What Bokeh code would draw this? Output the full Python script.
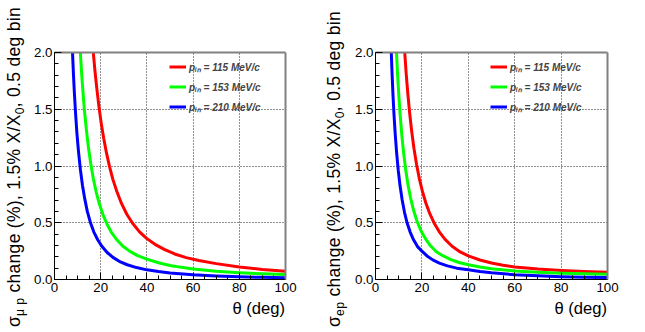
import numpy as np
from bokeh.plotting import figure
from bokeh.layouts import row, column
from bokeh.models import Range1d, FixedTicker, LinearAxis, NumeralTickFormatter, Div
from bokeh.embed import file_html
from bokeh.resources import INLINE

# ---------------- data ----------------
legend_labels = ["p\u1d62\u2099 = 115 MeV/c", "p\u1d62\u2099 = 153 MeV/c", "p\u1d62\u2099 = 210 MeV/c"]

# left panel: sigma_mu p change (%) vs theta (deg)
th_mup_115 = [16.8, 17.5, 18.3, 19.2, 20.2, 21.3, 22.5, 23.8, 25.3, 27.0, 29.0, 31.3, 33.8, 36.8, 40.0,
              43.5, 47.5, 52.0, 57.0, 62.5, 70.0, 80.0, 90.0, 100.0]
v_mup_115 = [2.0, 1.84, 1.686, 1.53, 1.38, 1.244, 1.115, 0.997, 0.88, 0.775, 0.67, 0.575, 0.495, 0.42, 0.36,
             0.31, 0.265, 0.225, 0.193, 0.167, 0.14, 0.11, 0.088, 0.073]
th_mup_153 = [11.2, 11.7, 12.3, 13.0, 13.8, 14.7, 15.7, 16.8, 18.0, 19.4, 21.0, 22.8, 24.8, 27.0, 29.5,
              32.5, 36.0, 40.0, 45.0, 50.0, 55.0, 60.0, 70.0, 80.0, 90.0, 100.0]
v_mup_153 = [2.0, 1.83, 1.66, 1.48, 1.32, 1.16, 1.02, 0.89, 0.775, 0.667, 0.57, 0.485, 0.41, 0.35, 0.295,
             0.25, 0.21, 0.18, 0.148, 0.124, 0.107, 0.093, 0.072, 0.059, 0.05, 0.043]
th_mup_210 = [7.8, 8.2, 8.6, 9.1, 9.7, 10.4, 11.2, 12.1, 13.1, 14.2, 15.5, 17.0, 18.7, 20.6, 22.8, 25.3,
              28.0, 31.5, 35.5, 40.0, 45.0, 50.0, 60.0, 70.0, 80.0, 90.0, 100.0]
v_mup_210 = [2.0, 1.81, 1.645, 1.47, 1.29, 1.125, 0.97, 0.83, 0.71, 0.60, 0.505, 0.42, 0.35, 0.29, 0.238, 0.195,
             0.16, 0.13, 0.105, 0.085, 0.07, 0.058, 0.042, 0.031, 0.024, 0.019, 0.015]

# right panel: sigma_ep change (%) vs theta (deg)
th_ep_115 = [12.6, 13.2, 13.9, 14.7, 15.6, 16.6, 17.7, 18.9, 20.2, 21.7, 23.4, 25.3, 27.5, 30.0, 33.0, 36.5,
             40.0, 45.0, 50.0, 55.0, 60.0, 70.0, 80.0, 90.0, 100.0]
v_ep_115 = [2.0, 1.82, 1.645, 1.47, 1.305, 1.152, 1.013, 0.889, 0.778, 0.674, 0.58, 0.496, 0.42, 0.353, 0.293,
            0.243, 0.208, 0.172, 0.145, 0.126, 0.111, 0.092, 0.079, 0.07, 0.064]
th_ep_153 = [9.05, 9.5, 10.0, 10.6, 11.3, 12.1, 13.0, 14.0, 15.1, 16.4, 17.9, 19.6, 21.5, 23.7, 26.2, 29.0,
             32.5, 36.0, 40.0, 45.0, 50.0, 60.0, 70.0, 80.0, 90.0, 100.0]
v_ep_153 = [2.0, 1.815, 1.64, 1.46, 1.28, 1.12, 0.97, 0.836, 0.72, 0.61, 0.513, 0.43, 0.36, 0.297, 0.245, 0.21,
            0.175, 0.15, 0.13, 0.11, 0.095, 0.075, 0.063, 0.055, 0.05, 0.046]
th_ep_210 = [6.8, 7.15, 7.55, 8.0, 8.5, 9.1, 9.8, 10.6, 11.5, 12.5, 13.6, 14.9, 16.4, 18.1, 20.0, 22.2, 24.7,
             27.5, 31.0, 35.0, 40.0, 45.0, 50.0, 60.0, 70.0, 80.0, 90.0, 100.0]
v_ep_210 = [2.0, 1.81, 1.62, 1.445, 1.28, 1.117, 0.963, 0.823, 0.70, 0.592, 0.50, 0.42, 0.35, 0.29, 0.25, 0.208,
            0.173, 0.145, 0.12, 0.1, 0.085, 0.07, 0.059, 0.042, 0.032, 0.025, 0.02, 0.017]

x_ticks = [0, 20, 40, 60, 80, 100]
y_ticks = [0.0, 0.5, 1.0, 1.5, 2.0]
x_title = "\u03b8 (deg)"
# y titles: (main, subscript, main, subscript, main)
y_title_left = ["\u03c3", "\u03bc p", " change (%), 1.5% X/X", "0", ", 0.5 deg bin"]
y_title_right = ["\u03c3", "ep", " change (%), 1.5% X/X", "0", ", 0.5 deg bin"]

colors = ["#ff0000", "#00ff00", "#0000ff"]

FONT = "Liberation Sans"
H_ALL = 332
H_PLOT = 301
H_XT = H_ALL - H_PLOT


def ytitle_div(parts, w, left, bottom, size=17.5):
    sub = "font-size:0.7em;position:relative;top:4px;"
    html = (parts[0] + f'<span style="{sub}">' + parts[1] + "</span>" + parts[2]
            + f'<span style="{sub}">' + parts[3] + "</span>" + parts[4])
    inner = (f'<div style="position:relative;width:{w}px;height:{H_ALL}px;overflow:visible;">'
             f'<div style="position:absolute;left:{left}px;top:{bottom}px;transform-origin:0 0;'
             f'transform:rotate(-90deg);white-space:nowrap;font-family:\'{FONT}\';letter-spacing:0.3px;'
             f'font-size:{size}px;line-height:{size}px;color:#000;">{html}</div></div>')
    return Div(text=inner, width=w, height=H_ALL, margin=0)


def xtitle_div(w, right):
    inner = (f'<div style="position:relative;width:{w}px;height:{H_XT}px;overflow:visible;">'
             f'<div style="position:absolute;right:{right}px;top:-0.5px;white-space:nowrap;'
             f'font-family:\'{FONT}\';font-size:16.6px;line-height:16.6px;color:#000;">{x_title}</div></div>')
    return Div(text=inner, width=w, height=H_XT, margin=0)


def make_panel(curves, width, bl, br):
    p = figure(width=width, height=H_PLOT, x_range=Range1d(0, 100), y_range=Range1d(0, 2),
               output_backend="svg", toolbar_location=None,
               min_border_left=bl, min_border_right=br, min_border_top=52, min_border_bottom=22)
    p.background_fill_color = "white"
    p.border_fill_color = "white"
    p.outline_line_color = None

    for (th, v), c, lab in zip(curves, colors, legend_labels):
        p.line(th, v, line_color=c, line_width=3, line_join="round", legend_label=lab)

    xt = FixedTicker(ticks=x_ticks, minor_ticks=list(np.arange(0, 101, 5)))
    yt = FixedTicker(ticks=y_ticks, minor_ticks=list(np.round(np.arange(0, 2.01, 0.1), 2)))
    p.xaxis.ticker = xt
    p.yaxis.ticker = yt
    p.yaxis.formatter = NumeralTickFormatter(format="0.0")
    for ax in (p.xaxis[0], p.yaxis[0]):
        ax.axis_line_color = "black"
        ax.axis_line_width = 1
        ax.major_tick_in = 7
        ax.major_tick_out = 0
        ax.minor_tick_in = 4
        ax.minor_tick_out = 0
        ax.major_tick_line_color = "black"
        ax.minor_tick_line_color = "black"
        ax.major_label_text_font = FONT
        ax.major_label_text_font_size = "13.3px"
        ax.major_label_text_color = "black"
    p.xaxis.major_label_standoff = 3
    p.yaxis.major_label_standoff = 2

    p.xgrid.ticker = xt
    p.ygrid.ticker = yt
    for g in (p.xgrid[0], p.ygrid[0]):
        g.grid_line_color = "#222222"
        g.grid_line_dash = "1 2"
        g.grid_line_width = 1

    for side in ("above", "right"):
        a = LinearAxis(ticker=FixedTicker(ticks=[]), axis_line_color="#808080", axis_line_width=2,
                       major_tick_line_color=None, minor_tick_line_color=None)
        p.add_layout(a, side)

    leg = p.legend[0]
    leg.location = (115, 164)
    leg.glyph_width = 17
    leg.glyph_height = 17
    leg.label_height = 17
    leg.spacing = 3
    leg.padding = 0
    leg.margin = 0
    leg.label_standoff = 3
    leg.label_text_font = FONT
    leg.label_text_font_style = "bold italic"
    leg.label_text_font_size = "10px"
    leg.border_line_alpha = 0
    leg.background_fill_alpha = 0
    return p


# page layout: [ytitle1 0..31][panel1 31..326][ytitle2 326..352][panel2 352..645]
yd1 = ytitle_div(y_title_left, 31, 5.7, 327)
p1 = make_panel([(th_mup_115, v_mup_115), (th_mup_153, v_mup_153), (th_mup_210, v_mup_210)], 295, 21, 41)
xd1 = xtitle_div(295, 41)
yd2 = ytitle_div(y_title_right, 26, 0, 327)
p2 = make_panel([(th_ep_115, v_ep_115), (th_ep_153, v_ep_153), (th_ep_210, v_ep_210)], 293, 23, 38)
xd2 = xtitle_div(293, 38)

layout = row(yd1, column(p1, xd1), yd2, column(p2, xd2))
open("out.html", "w").write(file_html(layout, INLINE))
